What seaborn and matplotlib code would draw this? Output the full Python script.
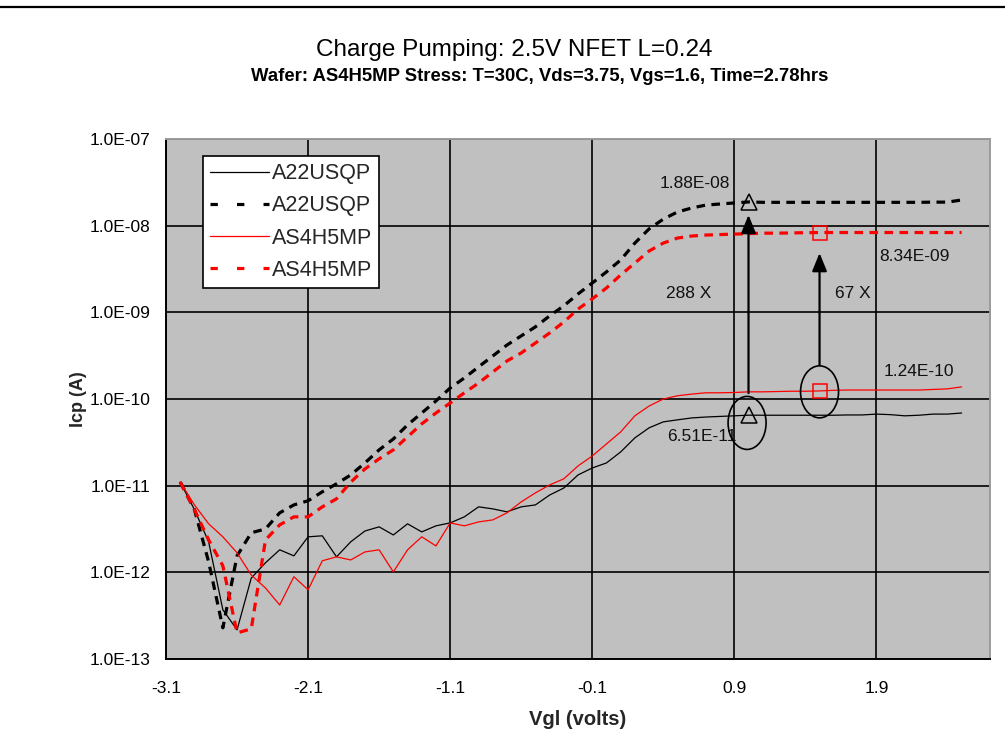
import numpy as np
import pandas as pd
import matplotlib
matplotlib.use("Agg")
import matplotlib.pyplot as plt
import seaborn as sns
from matplotlib.lines import Line2D
from matplotlib.patches import Ellipse
from matplotlib.transforms import ScaledTranslation
from matplotlib.ticker import FixedLocator, NullLocator

# ---------------- data ----------------
vgl = [-3.0, -2.9, -2.8, -2.7, -2.6, -2.5, -2.4, -2.3, -2.2, -2.1,
       -2.0, -1.9, -1.8, -1.7, -1.6, -1.5, -1.4, -1.3, -1.2, -1.1,
       -1.0, -0.9, -0.8, -0.7, -0.6, -0.5, -0.4, -0.3, -0.2, -0.1,
       0.0, 0.1, 0.2, 0.3, 0.4, 0.5, 0.6, 0.7, 0.8, 0.9,
       1.0, 1.1, 1.2, 1.3, 1.4, 1.5, 1.6, 1.7, 1.8, 1.9,
       2.0, 2.1, 2.2, 2.3, 2.4, 2.5]

a22_pre = [1.1e-11, 5.3e-12, 2.25e-12, 3.7e-13, 2.17e-13, 8.6e-13, 1.29e-12, 1.82e-12, 1.55e-12, 2.57e-12,
           2.64e-12, 1.51e-12, 2.25e-12, 3.0e-12, 3.35e-12, 2.7e-12, 3.63e-12, 2.93e-12, 3.44e-12, 3.72e-12,
           4.37e-12, 5.7e-12, 5.4e-12, 4.99e-12, 5.7e-12, 6.0e-12, 7.8e-12, 9.4e-12, 1.33e-11, 1.6e-11,
           1.83e-11, 2.45e-11, 3.56e-11, 4.65e-11, 5.45e-11, 5.75e-11, 6.05e-11, 6.2e-11, 6.3e-11, 6.4e-11,
           6.51e-11, 6.5e-11, 6.5e-11, 6.5e-11, 6.5e-11, 6.5e-11, 6.5e-11, 6.55e-11, 6.55e-11, 6.7e-11,
           6.6e-11, 6.4e-11, 6.5e-11, 6.7e-11, 6.7e-11, 6.9e-11]

a22_post = [1.1e-11, 5.3e-12, 1.32e-12, 2.29e-13, 1.55e-12, 2.86e-12, 3.17e-12, 4.86e-12, 6.0e-12, 6.7e-12,
            8.5e-12, 1.05e-11, 1.33e-11, 1.83e-11, 2.59e-11, 3.46e-11, 5.03e-11, 6.9e-11, 9.5e-11, 1.34e-10,
            1.75e-10, 2.35e-10, 3.14e-10, 4.2e-10, 5.35e-10, 6.8e-10, 9.1e-10, 1.19e-9, 1.63e-9, 2.18e-9,
            2.93e-9, 4.02e-9, 6.3e-9, 9.17e-9, 1.19e-8, 1.44e-8, 1.6e-8, 1.73e-8, 1.78e-8, 1.83e-8,
            1.88e-8, 1.86e-8, 1.86e-8, 1.86e-8, 1.86e-8, 1.86e-8, 1.86e-8, 1.86e-8, 1.86e-8, 1.86e-8,
            1.86e-8, 1.86e-8, 1.86e-8, 1.87e-8, 1.87e-8, 1.98e-8]

as4_pre = [1.1e-11, 6.0e-12, 3.63e-12, 2.57e-12, 1.68e-12, 9.3e-13, 6.6e-13, 4.2e-13, 8.9e-13, 6.3e-13,
           1.36e-12, 1.51e-12, 1.39e-12, 1.72e-12, 1.82e-12, 1.01e-12, 1.82e-12, 2.57e-12, 2.02e-12, 3.72e-12,
           3.44e-12, 3.82e-12, 4.03e-12, 4.86e-12, 6.5e-12, 8.26e-12, 1.02e-11, 1.2e-11, 1.69e-11, 2.2e-11,
           3.03e-11, 4.17e-11, 6.4e-11, 8.3e-11, 1.0e-10, 1.09e-10, 1.14e-10, 1.18e-10, 1.18e-10, 1.19e-10,
           1.21e-10, 1.21e-10, 1.22e-10, 1.23e-10, 1.23e-10, 1.24e-10, 1.26e-10, 1.27e-10, 1.27e-10, 1.27e-10,
           1.27e-10, 1.27e-10, 1.27e-10, 1.29e-10, 1.31e-10, 1.38e-10]

as4_post = [1.1e-11, 5.3e-12, 2.37e-12, 1.19e-12, 2.0e-13, 2.23e-13, 2.37e-12, 3.53e-12, 4.37e-12, 4.37e-12,
            5.7e-12, 7.05e-12, 1.1e-11, 1.56e-11, 2.04e-11, 2.59e-11, 3.66e-11, 5.17e-11, 6.9e-11, 9.0e-11,
            1.18e-10, 1.53e-10, 2.05e-10, 2.75e-10, 3.4e-10, 4.43e-10, 5.78e-10, 7.75e-10, 1.09e-9, 1.43e-9,
            1.91e-9, 2.7e-9, 3.71e-9, 5.1e-9, 6.3e-9, 7.2e-9, 7.6e-9, 7.8e-9, 7.9e-9, 8.0e-9,
            8.1e-9, 8.2e-9, 8.2e-9, 8.25e-9, 8.3e-9, 8.34e-9, 8.34e-9, 8.34e-9, 8.34e-9, 8.34e-9,
            8.34e-9, 8.34e-9, 8.34e-9, 8.34e-9, 8.34e-9, 8.34e-9]

series_names = ["A22USQP", "A22USQP", "AS4H5MP", "AS4H5MP"]
x_ticks = [-3.1, -2.1, -1.1, -0.1, 0.9, 1.9]
x_tick_labels = ["-3.1", "-2.1", "-1.1", "-0.1", "0.9", "1.9"]
y_ticks = [1e-13, 1e-12, 1e-11, 1e-10, 1e-9, 1e-8, 1e-7]
y_tick_labels = ["1.0E-13", "1.0E-12", "1.0E-11", "1.0E-10", "1.0E-09", "1.0E-08", "1.0E-07"]

title = "Charge Pumping: 2.5V NFET L=0.24"
subtitle = "Wafer: AS4H5MP Stress: T=30C, Vds=3.75, Vgs=1.6, Time=2.78hrs"

# marker points / annotations
tri_x = 1.0
sq_x = 1.5
i_tri = vgl.index(tri_x)
i_sq = vgl.index(sq_x)

# ---------------- style ----------------
sns.set_style("white")
plt.rcParams['font.family'] = ['Liberation Sans', 'DejaVu Sans']

fig = plt.figure(figsize=(10.05, 7.36), dpi=100)
ax = fig.add_axes([0.1652, 0.1046, 0.8199, 0.7065])
ax.set_facecolor("#C0C0C0")

df = pd.DataFrame({"vgl": vgl, "a22_pre": a22_pre, "a22_post": a22_post,
                   "as4_pre": as4_pre, "as4_post": as4_post})

dash = (0, (2.7, 2.0))
sns.lineplot(data=df, x="vgl", y="a22_pre", ax=ax, color="black", lw=0.9,
             estimator=None, sort=False, legend=False, zorder=3)
sns.lineplot(data=df, x="vgl", y="a22_post", ax=ax, color="black", lw=2.3,
             linestyle=dash, estimator=None, sort=False, legend=False, zorder=3)
sns.lineplot(data=df, x="vgl", y="as4_pre", ax=ax, color="#FF0000", lw=0.9,
             estimator=None, sort=False, legend=False, zorder=3)
sns.lineplot(data=df, x="vgl", y="as4_post", ax=ax, color="#FF0000", lw=2.3,
             linestyle=dash, estimator=None, sort=False, legend=False, zorder=3)

ax.set_yscale("log")
ax.set_xlim(-3.1, 2.7)
ax.set_ylim(1e-13, 1e-7)
ax.xaxis.set_major_locator(FixedLocator(x_ticks))
ax.set_xticklabels(x_tick_labels)
ax.yaxis.set_major_locator(FixedLocator(y_ticks))
ax.yaxis.set_minor_locator(NullLocator())
ax.set_yticklabels(y_tick_labels)
ax.tick_params(axis="both", which="major", direction="out", length=6, width=1.0,
               color="black", labelsize=12.5, labelcolor="black", pad=6)
ax.tick_params(axis="y", pad=5)
ax.tick_params(axis="x", pad=10)

ax.set_axisbelow(True)
ax.grid(True, which="major", color="black", lw=1.2)

for s in ["left", "bottom"]:
    ax.spines[s].set_color("black")
    ax.spines[s].set_linewidth(1.4)
for s in ["top", "right"]:
    ax.spines[s].set_color("#9A9A9A")
    ax.spines[s].set_linewidth(1.4)
    ax.spines[s].set_visible(True)

ax.set_xlabel("Vgl (volts)", fontsize=14.5, fontweight="bold", labelpad=10)
ax.set_ylabel("Icp (A)", fontsize=13, fontweight="bold", labelpad=2)

# markers
ax.plot([tri_x], [a22_post[i_tri]], marker="^", ms=11, mfc="none", mec="black", mew=1.1, ls="none", zorder=5)
ax.plot([tri_x], [a22_pre[i_tri]], marker="^", ms=11, mfc="none", mec="black", mew=1.1, ls="none", zorder=5)
ax.plot([sq_x], [as4_post[i_sq]], marker="s", ms=10, mfc="none", mec="#FF0000", mew=1.1, ls="none", zorder=5)
ax.plot([sq_x], [as4_pre[i_sq]], marker="s", ms=10, mfc="none", mec="#FF0000", mew=1.1, ls="none", zorder=5)

# arrows
arrow_kw = dict(arrowstyle="-|>,head_length=1.1,head_width=0.45", color="black", lw=1.6,
                shrinkA=0, shrinkB=0)
ax.annotate("", xy=(tri_x, 1.33e-8), xytext=(tri_x, 1.17e-10), arrowprops=arrow_kw, zorder=6)
ax.annotate("", xy=(sq_x, 4.84e-9), xytext=(sq_x, 2.47e-10), arrowprops=arrow_kw, zorder=6)

# ellipses (pixel sized, centered on data points)
for (ex, ey, w, h) in [(0.99, 5.3e-11, 0.38, 0.53), (1.5, 1.21e-10, 0.38, 0.52)]:
    tr = fig.dpi_scale_trans + ScaledTranslation(ex, ey, ax.transData)
    ax.add_patch(Ellipse((0, 0), w, h, transform=tr, fill=False, ec="black", lw=1.2, zorder=6))

# text labels
tfs = 12.5
ax.text(0.625, 3.1e-8, "1.88E-08", fontsize=tfs, ha="center", va="center", color="#111111")
ax.text(2.17, 4.47e-9, "8.34E-09", fontsize=tfs, ha="center", va="center", color="#111111")
ax.text(0.576, 1.67e-9, "288 X", fontsize=tfs, ha="center", va="center", color="#111111")
ax.text(1.738, 1.67e-9, "67 X", fontsize=tfs, ha="center", va="center", color="#111111")
ax.text(2.196, 2.06e-10, "1.24E-10", fontsize=tfs, ha="center", va="center", color="#111111")
ax.text(0.428, 3.66e-11, "6.51E-11", fontsize=tfs, ha="left", va="center", color="#111111", zorder=4)

# legend
handles = [
    Line2D([], [], color="black", lw=0.9),
    Line2D([], [], color="black", lw=2.3, linestyle=(0, (2.3, 6.0))),
    Line2D([], [], color="#FF0000", lw=0.9),
    Line2D([], [], color="#FF0000", lw=2.3, linestyle=(0, (2.3, 6.0))),
]
leg = ax.legend(handles, series_names, loc="upper left", bbox_to_anchor=(0.045, 0.967),
                fontsize=15.5, frameon=True, fancybox=False, framealpha=1.0,
                edgecolor="black", facecolor="white", handlelength=2.75, handletextpad=0.1,
                labelspacing=0.52, borderpad=0.33, borderaxespad=0.0)
leg.get_frame().set_linewidth(1.2)
leg.set_zorder(7)

# titles
fig.text(514 / 1005, 1 - 56 / 736, title, fontsize=17.5, ha="center",
         va="baseline", color="black")
fig.text(540 / 1005, 1 - 81 / 736, subtitle, fontsize=13.3, fontweight="bold", ha="center",
         va="baseline", color="black")

# top rule
fig.add_artist(Line2D([0, 1], [1 - 7 / 736, 1 - 7 / 736], transform=fig.transFigure,
                      color="black", lw=1.6))

fig.savefig("out.png", dpi=100)
